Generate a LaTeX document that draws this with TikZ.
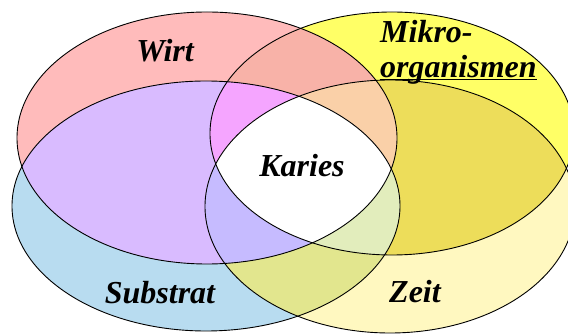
\documentclass[tikz,border=0pt]{standalone}
\usepackage{fontspec}
\setmainfont{Liberation Serif}
\definecolor{cW}{RGB}{255,187,187}
\definecolor{cM}{RGB}{255,255,102}
\definecolor{cS}{RGB}{184,220,240}
\definecolor{cZ}{RGB}{255,248,192}
\definecolor{cWM}{RGB}{248,178,168}
\definecolor{cWS}{RGB}{217,187,255}
\definecolor{cMZ}{RGB}{237,221,90}
\definecolor{cSZ}{RGB}{226,230,142}
\definecolor{cWZ}{RGB}{230,200,200}
\definecolor{cMS}{RGB}{210,230,200}
\definecolor{cWMS}{RGB}{245,165,255}
\definecolor{cWMZ}{RGB}{250,208,168}
\definecolor{cWSZ}{RGB}{198,187,255}
\definecolor{cMSZ}{RGB}{226,237,188}
\newcommand\myunderl[1]{\setbox0\hbox{#1}\rlap{\rule[-2.6pt]{\wd0}{1.3pt}}\box0}
\begin{document}
\begin{tikzpicture}[x=1pt,y=-1pt,
  lab/.style={font=\fontsize{32}{35}\selectfont\bfseries\itshape, inner sep=0pt, text=black},
  outline/.style={draw=black, line width=0.9pt}]
\def\pW{(207,138) ellipse [x radius=190pt, y radius=126pt]}
\def\pS{(206,206) ellipse [x radius=194pt, y radius=125pt]}
\def\pM{(392,133.5) ellipse [x radius=182pt, y radius=121.5pt]}
\def\pZ{(390,206.5) ellipse [x radius=185pt, y radius=126.5pt]}
\useasboundingbox (0,0) rectangle (568,336);
\clip (0,0) rectangle (568,336);
% single sets
\fill[cW] \pW;
\fill[cM] \pM;
\fill[cS] \pS;
\fill[cZ] \pZ;
% pairs
\begin{scope}\clip \pW; \fill[cWM] \pM; \end{scope}
\begin{scope}\clip \pW; \fill[cWS] \pS; \end{scope}
\begin{scope}\clip \pW; \fill[cWZ] \pZ; \end{scope}
\begin{scope}\clip \pM; \fill[cMS] \pS; \end{scope}
\begin{scope}\clip \pM; \fill[cMZ] \pZ; \end{scope}
\begin{scope}\clip \pS; \fill[cSZ] \pZ; \end{scope}
% triples
\begin{scope}\clip \pW; \clip \pM; \fill[cWMS] \pS; \end{scope}
\begin{scope}\clip \pW; \clip \pM; \fill[cWMZ] \pZ; \end{scope}
\begin{scope}\clip \pW; \clip \pS; \fill[cWSZ] \pZ; \end{scope}
\begin{scope}\clip \pM; \clip \pS; \fill[cMSZ] \pZ; \end{scope}
% all four
\begin{scope}\clip \pW; \clip \pM; \clip \pS; \fill[white] \pZ; \end{scope}
% outlines
\draw[outline] \pW;
\draw[outline] \pM;
\draw[outline] \pS;
\draw[outline] \pZ;
% labels
\node[lab, anchor=base] (wirt) at (165,62) {Wirt};
\node[lab, anchor=north west, align=left] (mikro) at (380,20) {Mikro-\\\myunderl{organismen}};
\node[lab, anchor=base] (karies) at (302,177) {Karies};
\node[lab, anchor=base] (substrat) at (160,304) {Substrat};
\node[lab, anchor=base] (zeit) at (415,303) {Zeit};
\end{tikzpicture}
\end{document}
